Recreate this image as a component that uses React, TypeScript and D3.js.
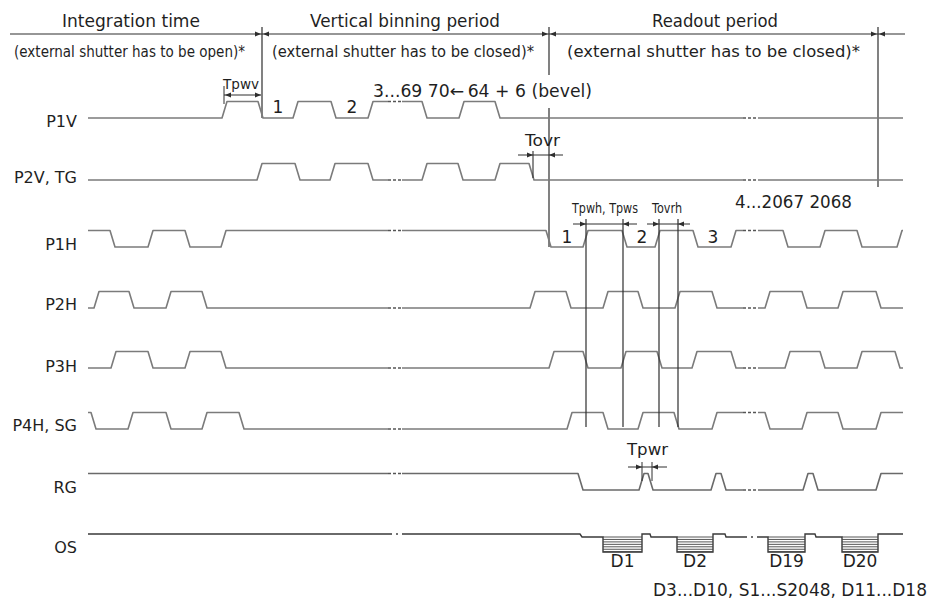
import React from "react";
import * as d3 from "d3";

// ---------- data ----------
const SIGNALS = ["P1V", "P2V, TG", "P1H", "P2H", "P3H", "P4H, SG", "RG"];
const START_LEVEL = [0, 0, 1, 0, 0, 1, 1];
const P1V_EDGES = [222, 258, 293, 331, 368, 422, 459, 495];
const P2V_EDGES = [257, 295, 330, 368, 422, 458, 495, 529];
const P1H_EDGES = [110, 148, 185, 221, 546, 583, 622, 655, 693, 731, 783, 820, 857, 897];
const P2H_EDGES = [94, 129, 166, 202, 530, 566, 603, 638, 675, 712, 765, 802, 838, 876];
const P3H_EDGES = [111, 148, 185, 221, 549, 583, 621, 657, 692, 731, 785, 820, 857, 895];
const P4H_EDGES = [91, 128, 166, 202, 239, 567, 603, 638, 674, 712, 765, 802, 838, 876];
const RG_EDGES = [578, 639, 648, 711, 721, 803, 813, 876];
const EDGES = [P1V_EDGES, P2V_EDGES, P1H_EDGES, P2H_EDGES, P3H_EDGES, P4H_EDGES, RG_EDGES];

const OS_FIRST_STEP = 580;
const OS_BOX_START = [603, 677, 768, 842];
const OS_BOX_END = [642, 713, 805, 878];
const OS_RESET_END = [650, 725, 815];
const OS_PIXELS = ["D1", "D2", "D19", "D20"];

const PERIOD_TITLES = ["Integration time", "Vertical binning period", "Readout period"];
const PERIOD_NOTES = [
  "(external shutter has to be open)*",
  "(external shutter has to be closed)*",
  "(external shutter has to be closed)*",
];
const PERIOD_BOUNDS = [262, 549, 878];

const P1V_COUNT = ["1", "2"];
const P1V_COUNT_AT = [278, 352];
const P1H_COUNT = ["1", "2", "3"];
const P1H_COUNT_AT = [567, 642, 713];
const BREAKS = [
  [388, 402],
  [743, 758],
];

// ---------- layout ----------
const W = 931;
const H = 600;
const X0 = 88;
const X1 = 903;
const ROW_LOW = [118, 180, 247, 308, 368, 429, 490];
const LABEL_DY = [9, 3, 3, 2, 4, 2, 3];
const AMP = 16.5;
const SLEW = 5;
const OS_Y = 534;
const WAVE = "#7b7b7b";
const DARK = "#2e2e2e";
const TXT = "#1f1f1f";
const FONT = "DejaVu Sans, Verdana, sans-serif";

const x = d3.scaleLinear().domain([X0, X1]).range([X0, X1]);

function wavePoints(start: number, edges: number[]): [number, number][] {
  const pts: [number, number][] = [[X0, start]];
  let lvl = start;
  for (const e of edges) {
    pts.push([e, lvl]);
    lvl = 1 - lvl;
    pts.push([e + SLEW, lvl]);
  }
  pts.push([X1, lvl]);
  return pts;
}
function levelAt(start: number, edges: number[], t: number) {
  let lvl = start;
  for (const e of edges) {
    if (e + SLEW / 2 <= t) lvl = 1 - lvl;
  }
  return lvl;
}

function Arrow({ tip, y, dir }: { tip: number; y: number; dir: 1 | -1 }) {
  const L = 6;
  const hw = 2.4;
  const p = `M${tip},${y} L${tip - dir * L},${y - hw} L${tip - dir * L},${y + hw} Z`;
  return <path d={p} fill={DARK} />;
}

function T({
  x: tx, y, s, size = 16, anchor = "start", len, family = FONT,
}: { x: number; y: number; s: string; size?: number; anchor?: string; len?: number; family?: string }) {
  return (
    <text
      x={tx}
      y={y}
      fontSize={size}
      fontFamily={family}
      fill={TXT}
      textAnchor={anchor as any}
      {...(len ? { textLength: len, lengthAdjust: "spacingAndGlyphs" } : {})}
    >
      {s}
    </text>
  );
}

export default function App() {
  const rows = SIGNALS.map((name, i) => {
    const low = ROW_LOW[i];
    const y = (l: number) => low - l * AMP;
    const line = d3
      .line<[number, number]>()
      .x((d) => x(d[0]))
      .y((d) => y(d[1]));
    const d = line(wavePoints(START_LEVEL[i], EDGES[i])) || "";
    const brk = BREAKS.map(([a, b], k) => {
      const yy = y(levelAt(START_LEVEL[i], EDGES[i], (a + b) / 2));
      return (
        <g key={k}>
          <line x1={x(a)} x2={x(b)} y1={yy} y2={yy} stroke="#fff" strokeWidth={4} />
          <line x1={x(a)} x2={x(b)} y1={yy} y2={yy} stroke="#555" strokeWidth={1.3} strokeDasharray="3,2" />
        </g>
      );
    });
    return (
      <g key={name}>
        <path d={d} fill="none" stroke={i === 6 ? "#6a6a6a" : WAVE} strokeWidth={1.6} strokeLinejoin="round" />
        {brk}
        <T x={77} y={low + LABEL_DY[i]} s={name} anchor="end" size={16} />
      </g>
    );
  });

  // OS
  const OS_PED = OS_Y + 3;
  const OS_SIG = OS_Y + 18;
  let osd = `M${x(X0)},${OS_Y} H${x(OS_FIRST_STEP)} L${x(OS_FIRST_STEP + 2)},${OS_PED}`;
  OS_BOX_START.forEach((s, k) => {
    osd += ` H${x(s)} V${OS_SIG} H${x(OS_BOX_END[k])} V${OS_Y}`;
    if (k < OS_RESET_END.length) {
      osd += ` H${x(OS_RESET_END[k])} L${x(OS_RESET_END[k] + 1)},${OS_PED}`;
    } else {
      osd += ` H${x(X1)}`;
    }
  });
  const hatch: JSX.Element[] = [];
  OS_BOX_START.forEach((s, k) => {
    for (let j = 0; j < 7; j++) {
      const yy = OS_PED + j * 2.45;
      hatch.push(
        <line key={`${k}-${j}`} x1={x(s)} x2={x(OS_BOX_END[k])} y1={yy} y2={yy} stroke="#444" strokeWidth={0.9} />
      );
    }
  });
  const osBreaks: [number, number][] = [
    [392, OS_Y],
    [747, OS_PED],
  ];

  const titleX = [62, 310, 652];
  const titleLen = [138, 190, 126];
  const noteX = [14, 272, 567];
  const noteLen = [231, 262, 293];

  return (
    <svg width={W} height={H} style={{ position: "absolute", left: 0, top: 0, background: "#fff" }}>
      <rect width={W} height={H} fill="#fff" />
      {/* header */}
      <line x1={10} x2={905} y1={34} y2={34} stroke={DARK} strokeWidth={1.1} />
      {PERIOD_BOUNDS.map((b) => (
        <g key={b}>
          <Arrow tip={x(b) - 1} y={34} dir={1} />
          <Arrow tip={x(b) + 1} y={34} dir={-1} />
        </g>
      ))}
      {PERIOD_TITLES.map((s, i) => (
        <T key={s} x={titleX[i]} y={27} s={s} size={17} len={titleLen[i]} />
      ))}
      {PERIOD_NOTES.map((s, i) => (
        <T key={i} x={noteX[i]} y={57} s={s} size={15} len={noteLen[i]} />
      ))}
      {/* period separators */}
      <line x1={x(PERIOD_BOUNDS[0])} x2={x(PERIOD_BOUNDS[0])} y1={27} y2={118} stroke={DARK} strokeWidth={1.2} />
      <line x1={x(PERIOD_BOUNDS[1])} x2={x(PERIOD_BOUNDS[1])} y1={27} y2={75} stroke={DARK} strokeWidth={1.2} />
      <line x1={x(PERIOD_BOUNDS[1])} x2={x(PERIOD_BOUNDS[1])} y1={108} y2={247} stroke={DARK} strokeWidth={1.2} />
      <line x1={x(PERIOD_BOUNDS[2])} x2={x(PERIOD_BOUNDS[2])} y1={27} y2={187} stroke={DARK} strokeWidth={1.2} />

      {rows}

      {/* OS */}
      <path d={osd} fill="none" stroke="#3a3a3a" strokeWidth={1.4} />
      {hatch}
      {osBreaks.map(([a, yy]) => (
        <g key={a}>
          <line x1={x(a)} x2={x(a + 10)} y1={yy} y2={yy} stroke="#fff" strokeWidth={4} />
          <line x1={x(a + 4)} x2={x(a + 6)} y1={yy} y2={yy} stroke="#444" strokeWidth={1.3} />
        </g>
      ))}
      {OS_PIXELS.map((s, k) => (
        <T key={s} x={x((OS_BOX_START[k] + OS_BOX_END[k]) / 2)} y={567} s={s} anchor="middle" size={17} />
      ))}
      <T x={653} y={596} s="D3...D10, S1...S2048, D11...D18" size={17} len={274} />
      <T x={77} y={553} s="OS" anchor="end" size={16} />

      {/* vertical binning annotations */}
      <T x={373} y={97} s={"3...69 70\u2190\u200964 + 6 (bevel)"} size={17} len={219} />
      {P1V_COUNT.map((s, k) => (
        <T key={s} x={x(P1V_COUNT_AT[k])} y={113} s={s} anchor="middle" size={17} />
      ))}
      {/* Tpwv */}
      <T x={223} y={89} s="Tpwv" size={14} len={36} />
      <line x1={x(224)} x2={x(224)} y1={86} y2={104} stroke={DARK} strokeWidth={1} />
      <line x1={x(224)} x2={x(261)} y1={95} y2={95} stroke={DARK} strokeWidth={1} />
      <Arrow tip={x(225)} y={95} dir={-1} />
      <Arrow tip={x(261)} y={95} dir={1} />

      {/* Tovr */}
      <T x={525} y={146} s="Tovr" size={16} len={35} />
      <line x1={x(518)} x2={x(563)} y1={155} y2={155} stroke={DARK} strokeWidth={1} />
      <line x1={x(533)} x2={x(533)} y1={151} y2={178} stroke={DARK} strokeWidth={1.1} />
      <Arrow tip={x(533)} y={155} dir={1} />
      <Arrow tip={x(549)} y={155} dir={-1} />

      {/* readout annotations */}
      <T x={735} y={208} s="4...2067 2068" size={17} len={117} />
      {P1H_COUNT.map((s, k) => (
        <T key={s} x={x(P1H_COUNT_AT[k])} y={243} s={s} anchor="middle" size={17} />
      ))}
      <T x={572} y={213} s="Tpwh, Tpws" size={14} len={66} />
      <T x={652} y={213} s="Tovrh" size={14} len={30} />
      <line x1={x(573)} x2={x(637)} y1={224} y2={224} stroke={DARK} strokeWidth={1} />
      <line x1={x(647)} x2={x(690)} y1={224} y2={224} stroke={DARK} strokeWidth={1} />
      {[586, 623, 659, 678].map((m) => (
        <line key={m} x1={x(m)} x2={x(m)} y1={219} y2={427} stroke={DARK} strokeWidth={1.2} />
      ))}
      <Arrow tip={x(586)} y={224} dir={1} />
      <Arrow tip={x(623)} y={224} dir={-1} />
      <Arrow tip={x(659)} y={224} dir={1} />
      <Arrow tip={x(678)} y={224} dir={-1} />

      {/* Tpwr */}
      <T x={627} y={455} s="Tpwr" size={16} len={41} />
      <line x1={x(628)} x2={x(667)} y1={467} y2={467} stroke={DARK} strokeWidth={1} />
      {[642, 652].map((m) => (
        <line key={m} x1={x(m)} x2={x(m)} y1={462} y2={481} stroke={DARK} strokeWidth={1} />
      ))}
      <Arrow tip={x(642)} y={467} dir={1} />
      <Arrow tip={x(652)} y={467} dir={-1} />
    </svg>
  );
}
